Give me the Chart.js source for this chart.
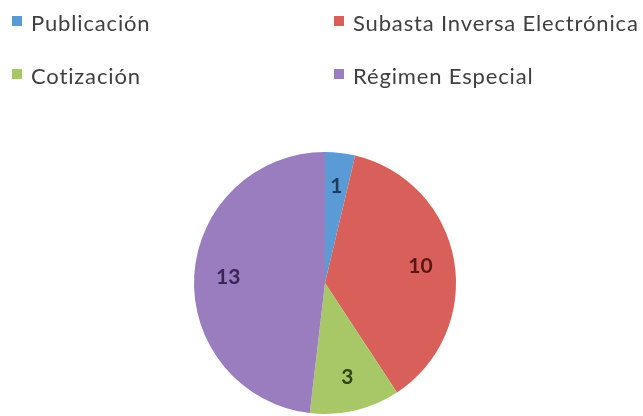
<!DOCTYPE html>
<html>
<head>
<meta charset="utf-8">
<script src="https://cdn.jsdelivr.net/npm/chart.js@4"></script>
<style>
  html, body { margin: 0; padding: 0; background: #fff; }
  #wrap { position: relative; width: 643px; height: 416px; }
  #legend .item { position: absolute; font-family: Lato, sans-serif; font-size: 22px; letter-spacing: 0.85px; color: #404040; line-height: 24px; white-space: nowrap; }
  #legend .box { position: absolute; width: 10px; height: 10px; }
</style>
</head>
<body>
<div id="wrap">
  <canvas id="pieChart" width="643" height="416"></canvas>
  <div id="legend"></div>
</div>
<script>
const labels = ['Publicación', 'Subasta Inversa Electrónica', 'Cotización', 'Régimen Especial'];
const values = [1, 10, 3, 13];
const colors = ['#5b9bd5', '#d9605a', '#a8c868', '#9a7dbf'];
const labelColors = ['#1f3a5c', '#5a1614', '#2f4412', '#3a2656'];

// legend: two columns, like the original spreadsheet chart
const legendPos = [[12, 11], [334, 11], [12, 64], [334, 64]];
const legend = document.getElementById('legend');
labels.forEach(function(lab, i) {
    const box = document.createElement('div');
    box.className = 'box';
    box.style.left = legendPos[i][0] + 'px';
    box.style.top = (legendPos[i][1] + 5) + 'px';
    box.style.background = colors[i];
    legend.appendChild(box);
    const txt = document.createElement('div');
    txt.className = 'item';
    txt.style.left = (legendPos[i][0] + 19) + 'px';
    txt.style.top = legendPos[i][1] + 'px';
    txt.textContent = lab;
    legend.appendChild(txt);
});

const sliceLabels = {
    id: 'sliceLabels',
    afterDatasetsDraw(chart) {
        const ctx = chart.ctx;
        const meta = chart.getDatasetMeta(0);
        ctx.save();
        ctx.font = 'bold 21px Lato, sans-serif';
        ctx.textAlign = 'center';
        ctx.textBaseline = 'middle';
        meta.data.forEach(function(arc, i) {
            const p = arc.getProps(['x', 'y', 'startAngle', 'endAngle', 'outerRadius'], true);
            const mid = (p.startAngle + p.endAngle) / 2;
            const r = p.outerRadius * 0.74;
            ctx.fillStyle = labelColors[i];
            ctx.fillText(String(values[i]), p.x + Math.cos(mid) * r, p.y + Math.sin(mid) * r);
        });
        ctx.restore();
    }
};

window.onload = function() {
    const ctx = document.getElementById('pieChart').getContext('2d');
    new Chart(ctx, {
        type: 'pie',
        data: {
            labels: labels,
            datasets: [{
                data: values,
                backgroundColor: colors,
                borderWidth: 0
            }]
        },
        options: {
            responsive: false,
            animation: false,
            layout: { padding: { top: 152, bottom: 2, left: 7, right: 0 } },
            plugins: {
                legend: { display: false },
                tooltip: { enabled: false }
            }
        },
        plugins: [sliceLabels]
    });
};
</script>
</body>
</html>
